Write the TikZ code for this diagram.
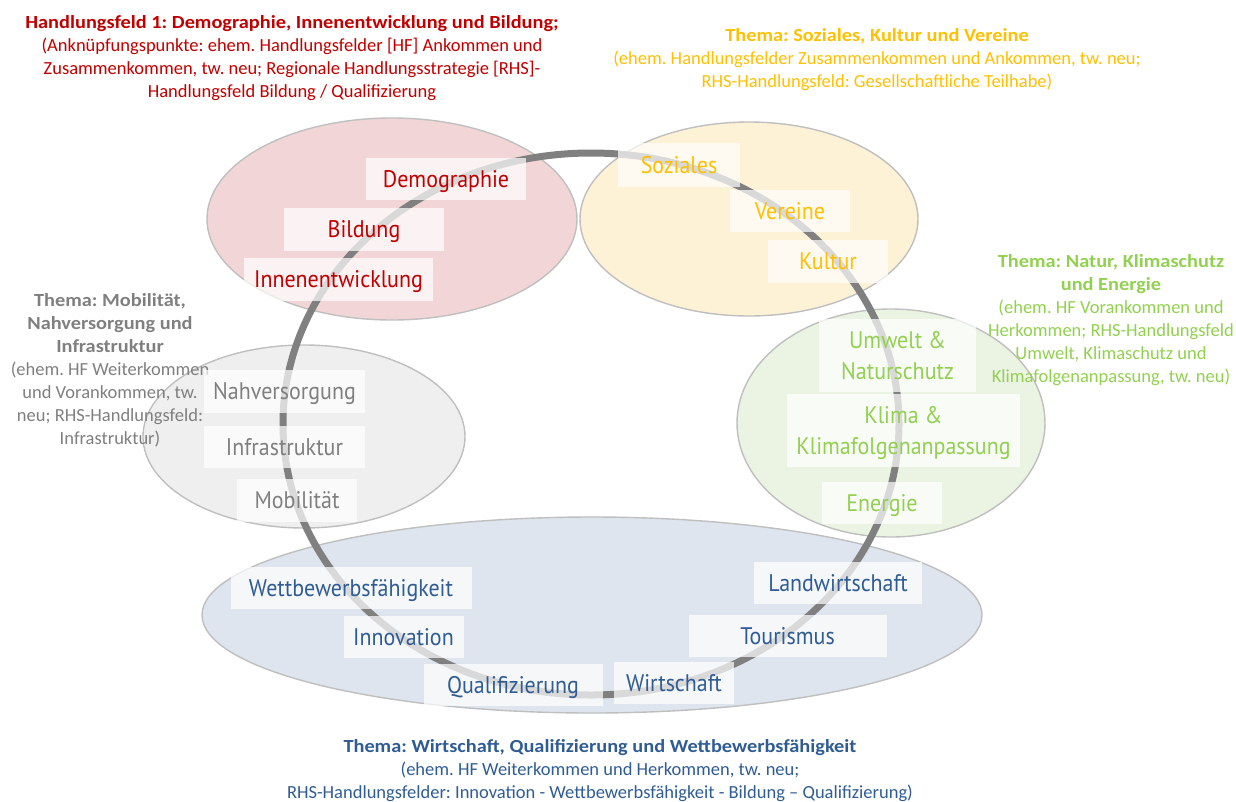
\documentclass[tikz,border=0pt]{standalone}
\usepackage{fontspec}
\setmainfont{Carlito}[BoldFeatures={FakeStretch=1.1}]
\newfontfamily\labfont[FakeStretch=0.915]{PT Sans}
\frenchspacing
\definecolor{cRed}{HTML}{C00000}
\definecolor{cYel}{HTML}{FFC000}
\definecolor{cGray}{HTML}{7F7F7F}
\definecolor{cGreen}{HTML}{92D050}
\definecolor{cBlue}{HTML}{2F5C94}
\definecolor{fRed}{HTML}{F2D6D7}
\definecolor{fYel}{HTML}{FDF1D6}
\definecolor{fGray}{HTML}{EFEFEF}
\definecolor{fGreen}{HTML}{EBF4E2}
\definecolor{fBlue}{HTML}{DEE5EE}
\definecolor{ellBorder}{HTML}{BFBFBF}
\definecolor{ringCol}{HTML}{808080}
\begin{document}
\begin{tikzpicture}[x=1pt,y=-1pt,
  ellshape/.style={draw=ellBorder, line width=1.4pt},
  ringline/.style={draw=ringCol, line width=7pt},
  theme/.style={align=center, inner sep=0pt, anchor=north, font=\frenchspacing\fontsize{18.5}{23}\selectfont},
  lab/.style={fill=white, fill opacity=0.7, text opacity=1, inner sep=0pt,
    font=\labfont\fontsize{24}{31}\selectfont, text height=16.8pt, text depth=0pt},
  lab2/.style={lab, align=center, text height=47.8pt, text depth=0pt}
]
\useasboundingbox (0,0) rectangle (1236,801);

% ellipses
\path[ellshape, fill=fRed]   (392,219) ellipse [x radius=185pt, y radius=101pt];
\path[ellshape, fill=fYel]   (749,219) ellipse [x radius=169pt, y radius=97pt];
\path[ellshape, fill=fGray]  (304,436.5) ellipse [x radius=161pt, y radius=91.5pt];
\path[ellshape, fill=fGreen] (891,423) ellipse [x radius=154pt, y radius=114pt];
\path[ellshape, fill=fBlue]  (592,615) ellipse [x radius=390pt, y radius=98pt];

% theme texts
\node[theme, text=cRed] (tRed) at (292,15)
  {\textbf{Handlungsfeld 1: Demographie, Innenentwicklung und Bildung;}\\
   (Anknüpfungspunkte: ehem. Handlungsfelder [HF] Ankommen und\\
   Zusammenkommen, tw. neu; Regionale Handlungsstrategie [RHS]-\\
   Handlungsfeld Bildung / Qualifizierung};
\node[theme, text=cYel] (tYel) at (877,28)
  {\textbf{Thema: Soziales, Kultur und Vereine}\\
   (ehem. Handlungsfelder Zusammenkommen und Ankommen, tw. neu;\\
   RHS-Handlungsfeld: Gesellschaftliche Teilhabe)};
\node[theme, text=cGray] (tGray) at (110,293)
  {\textbf{Thema: Mobilität,}\\
   \textbf{Nahversorgung und}\\
   \textbf{Infrastruktur}\\
   (ehem. HF Weiterkommen\\
   und Vorankommen, tw.\\
   neu; RHS-Handlungsfeld:\\
   Infrastruktur)};
\node[theme, text=cGreen] (tGreen) at (1111,254)
  {\textbf{Thema: Natur, Klimaschutz}\\
   \textbf{und Energie}\\
   (ehem. HF Vorankommen und\\
   Herkommen; RHS-Handlungsfeld\\
   Umwelt, Klimaschutz und\\
   Klimafolgenanpassung, tw. neu)};
\node[theme, text=cBlue] (tBlue) at (600,739)
  {\textbf{Thema: Wirtschaft, Qualifizierung und Wettbewerbsfähigkeit}\\
   (ehem. HF Weiterkommen und Herkommen, tw. neu;\\
   RHS-Handlungsfelder: Innovation - Wettbewerbsfähigkeit - Bildung – Qualifizierung)};

% ring
\path[ringline] (591,424) ellipse [x radius=308pt, y radius=271pt];

% label boxes
\node[lab, text=cRed, minimum width=160pt, minimum height=42pt] (demo) at (446,179) {Demographie};
\node[lab, text=cRed, minimum width=160pt, minimum height=43pt] (bild) at (364,229.5) {Bildung};
\node[lab, text=cRed, minimum width=189pt, minimum height=43pt] (innen) at (338.5,279.5) {Innenentwicklung};

\node[lab, text=cYel, minimum width=122pt, minimum height=44pt] (soz) at (679,165) {Soziales};
\node[lab, text=cYel, minimum width=120pt, minimum height=42pt] (ver) at (790,211) {Vereine};
\node[lab, text=cYel, minimum width=120pt, minimum height=43pt] (kul) at (828,261.5) {Kultur};

\node[lab, text=cGray, minimum width=161pt, minimum height=43pt] (nah) at (284.5,391.5) {Nahversorgung};
\node[lab, text=cGray, minimum width=161pt, minimum height=42pt] (infra) at (284.5,447) {Infrastruktur};
\node[lab, text=cGray, minimum width=120pt, minimum height=43pt] (mob) at (297,500.5) {Mobilität};

\node[lab2, text=cGreen, minimum width=157pt, minimum height=73pt] (umw) at (897.5,355.5) {Umwelt \&\\Naturschutz};
\node[lab2, text=cGreen, minimum width=233pt, minimum height=73pt] (klima) at (903.5,430.5) {Klima \&\\Klimafolgenanpassung};
\node[lab, text=cGreen, minimum width=120pt, minimum height=42pt] (ener) at (882,503) {Energie};

\node[lab, text=cBlue, minimum width=241pt, minimum height=42pt] (wett) at (351,588) {Wettbewerbsfähigkeit};
\node[lab, text=cBlue, minimum width=120pt, minimum height=42pt] (inno) at (403.5,637) {Innovation};
\node[lab, text=cBlue, minimum width=179pt, minimum height=42pt] (quali) at (513,685) {Qualifizierung};
\node[lab, text=cBlue, minimum width=120pt, minimum height=42pt] (wirt) at (674,683) {Wirtschaft};
\node[lab, text=cBlue, minimum width=198pt, minimum height=42pt] (tour) at (787.5,636) {Tourismus};
\node[lab, text=cBlue, minimum width=168pt, minimum height=42pt] (land) at (838,583) {Landwirtschaft};
\end{tikzpicture}
\end{document}
